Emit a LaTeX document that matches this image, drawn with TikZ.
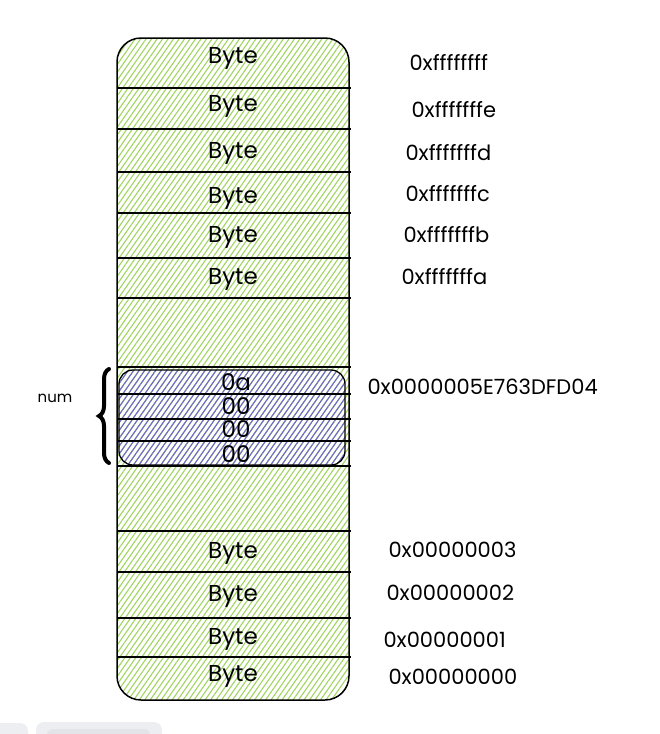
\documentclass[tikz,border=0pt]{standalone}
\usepackage{fontspec}
\setmainfont{Poppins}
\usetikzlibrary{patterns.meta, decorations.pathreplacing, positioning}

\definecolor{hatchgreen}{RGB}{160,212,96}
\definecolor{hatchblue}{RGB}{110,104,204}
\definecolor{uigray}{RGB}{236,238,241}
\definecolor{uigrayd}{RGB}{226,228,232}

\begin{document}
\begin{tikzpicture}[x=1pt, y=-1pt,
            memory/.style={draw, line width=1.5pt, rounded corners=24pt, pattern={Lines[angle=55, distance=4.5pt, line width=1.1pt]}, pattern color=hatchgreen},
            numblock/.style={draw, line width=1.3pt, rounded corners=14pt, pattern={Lines[angle=55, distance=4.5pt, line width=1.1pt]}, pattern color=hatchblue},
            divider/.style={line width=1.5pt},
            cell/.style={font=\fontsize{23}{25}\selectfont},
            addr/.style={anchor=west, font=\fontsize{21}{23}\selectfont},
            numbrace/.style={decorate, decoration={brace, amplitude=10pt}, line width=4pt, line cap=round},
            uibox/.style={fill=uigray, rounded corners=8pt}
        ]
            \useasboundingbox (0,0) rectangle (660,734);

            % memory column
            \draw [memory] (117,38) rectangle (349,700);
            \draw [numblock] (119,370) rectangle (345,465);
            \foreach \y in {88,129,172,213,258,298,367,394,419,441,466,531,572,618,657}
                \draw [divider] (117,\y) -- (351,\y);

            % bytes and their addresses
            \foreach \n/\y/\ay/\ax/\a in {ff/58/62/406/0xffffffff, fe/106/110/408/0xfffffffe,
                    fd/153/153/402/0xfffffffd, fc/198/194/402/0xfffffffc,
                    fb/237/235/400/0xfffffffb, fa/279/277/398/0xfffffffa,
                    b3/553/550/385/0x00000003, b2/596/593/383/0x00000002,
                    b1/639/640/380/0x00000001, b0/676/677/385/0x00000000} {
                \node [cell] (\n) at (233,\y) {Byte};
                \node [addr] (\n-addr) at (\ax,\ay) {\a};
            }

            % the number
            \node [cell] (n0) at (236,382) {0a};
            \node [cell] (n1) at (236,406) {00};
            \node [cell] (n2) at (236,429) {00};
            \node [cell] (n3) at (236,454) {00};
            \node [addr] (num-addr) at (364,387) {0x0000005E763DFD04};

            \coordinate (brace-lo) at (109,463);
            \coordinate (brace-hi) at (109,369);
            \draw [numbrace] (brace-lo) -- (brace-hi);
            \node [font=\fontsize{15}{17}\selectfont] (num) at (55,398) {num};

            % window chrome
            \fill [uibox] (-10,723) rectangle (28,750);
            \fill [uibox] (36,722) rectangle (162,750);
            \fill [fill=uigrayd, rounded corners=6pt] (47,729) rectangle (150,750);
        \end{tikzpicture}
\end{document}
